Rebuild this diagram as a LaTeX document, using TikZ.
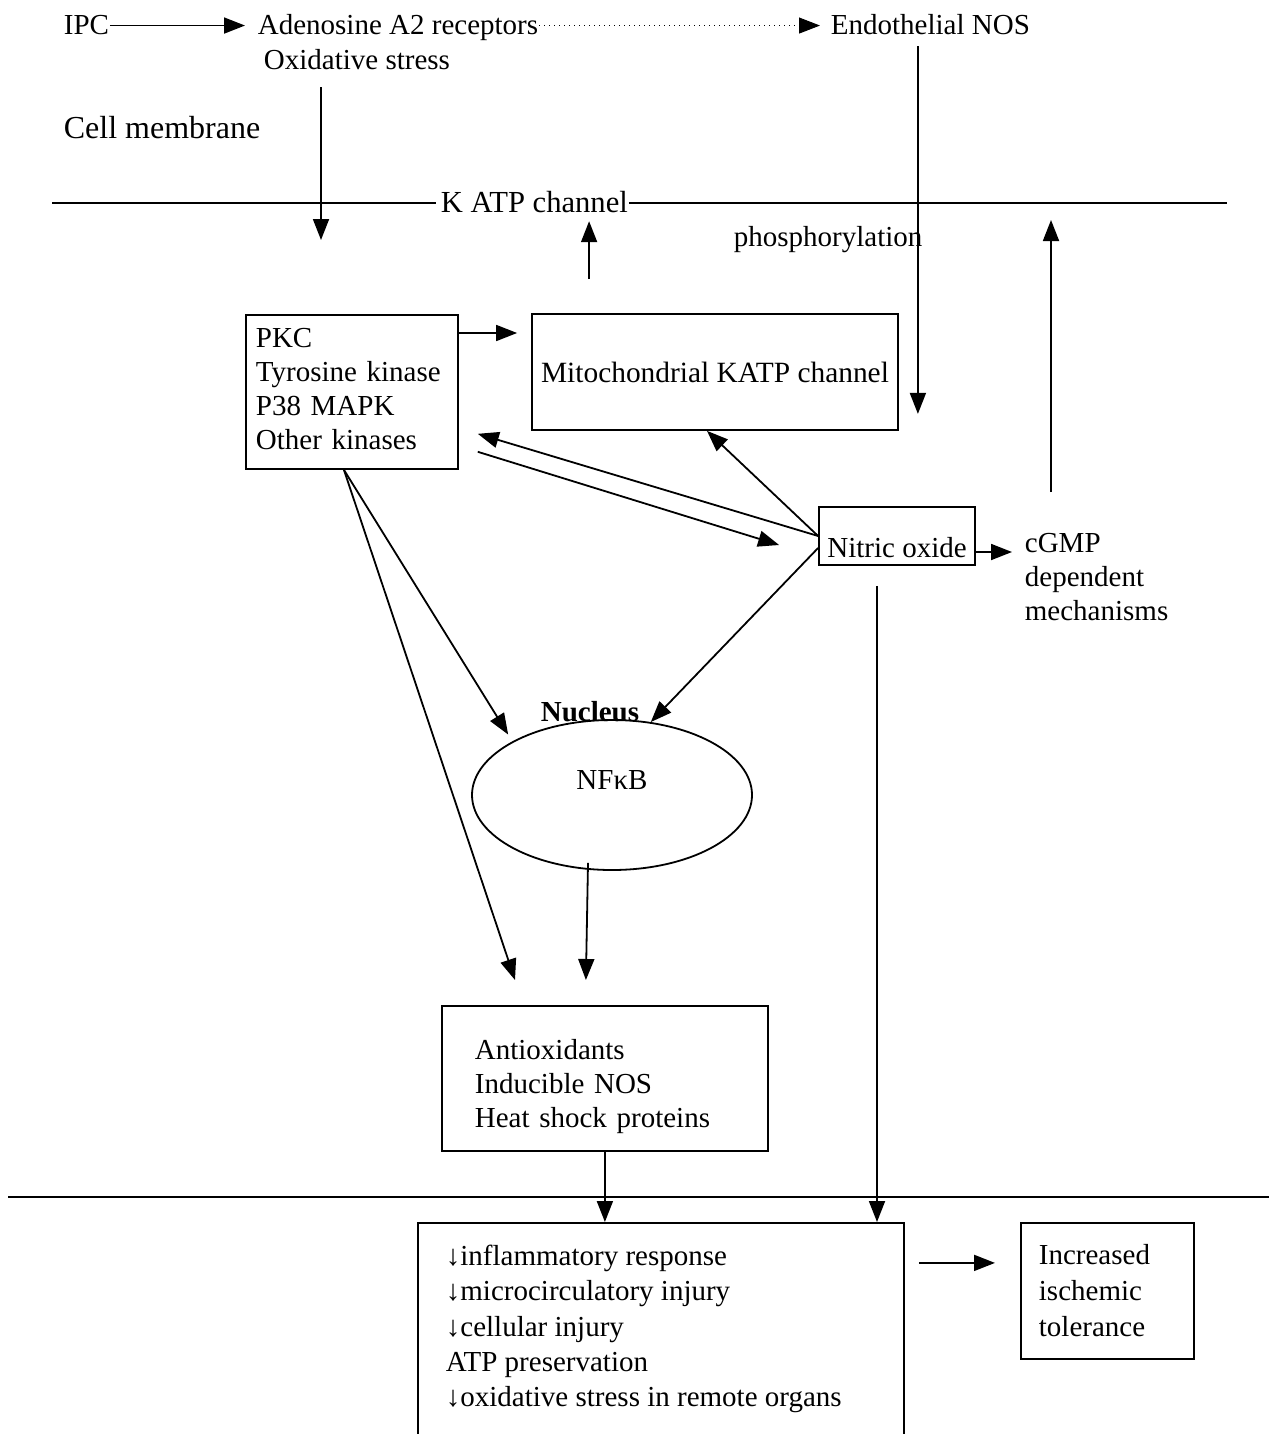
\documentclass[tikz,border=0pt]{standalone}
\usepackage{fontspec}
\setmainfont{Liberation Serif}
\usetikzlibrary{arrows.meta,shapes.geometric}
\tikzset{
  txt/.style={font=\fontsize{14.5}{17}\selectfont,inner sep=0pt},
  txtb/.style={font=\fontsize{14.5}{17.7}\selectfont,inner sep=0pt},
  box/.style={draw,line width=0.9pt,inner sep=0pt},
}
\begin{document}
\begin{tikzpicture}[x=0.5pt,y=-0.5pt,line width=0.9pt,>={Triangle[length=10.5pt,width=8pt]}]
\useasboundingbox (0,0) rectangle (1269,1434);
%top row
\node[txt,anchor=base west](ipc)at(63,35){IPC};
\node[txt,anchor=base west](adeno)at(257,35){Adenosine A2 receptors};
\node[txt,anchor=base west](enos)at(830,35){Endothelial NOS};
\node[txt,anchor=base west](oxid)at(263,70){Oxidative stress};
\node[txt,anchor=base west,font=\fontsize{16}{17}\selectfont](cellm)at(63,139){Cell membrane};
\draw[->,shorten >=6pt](ipc.east)--(ipc.east-|adeno.west);
\draw[->,dotted,line width=0.5pt,shorten >=5pt](adeno.east|-ipc.east)--(enos.west|-ipc.east);
%membrane
\coordinate(memL)at(52,203);
\coordinate(memR)at(1227,203);
\node[txt,anchor=base west,font=\fontsize{15.3}{17}\selectfont](katp)at(440,212){K ATP channel};
\draw[shorten >=2pt](memL)--(katp.west|-memL);
\draw(katp.east|-memR)--(memR);
\node[txt,anchor=base west](phos)at(733,246){phosphorylation};
%boxes
\node[box,anchor=north west,align=left,text width=96pt,inner xsep=5pt,minimum height=77pt,font=\fontsize{14.5}{17}\selectfont](pkc)at(245,314){PKC\\Tyrosine kinase\\P38 MAPK\\Other kinases\rule[-3pt]{0pt}{3pt}};
\node[box,minimum width=183pt,minimum height=58pt,font=\fontsize{14.7}{17}\selectfont](mito)at(715,372){Mitochondrial KATP channel};
\node[box,minimum width=78pt,text height=25pt,text depth=4pt,font=\fontsize{14.5}{17}\selectfont](no)at(897,536){Nitric oxide};
\node[txt,anchor=north west,align=left](cgmp)at(1024,532){cGMP\\dependent\\mechanisms};
%nucleus
\node[draw,ellipse,minimum width=140pt,minimum height=75pt,inner sep=0pt](nucleus)at(612,795){};
\node[txt](nfkb)at(612,780){NFκB};
\node[txt,font=\fontsize{14.5}{17}\selectfont\bfseries](nuclab)at(590,712){Nucleus};
\node[box,anchor=north west,align=left,text width=130pt,inner xsep=16.5pt,minimum height=72.5pt,font=\fontsize{14.5}{17}\selectfont](anti)at(441,1005){\rule{0pt}{18pt}Antioxidants\\Inducible NOS\\Heat shock proteins};
%bottom
\coordinate(botL)at(8,1197);
\coordinate(botR)at(1269,1197);
\draw(botL)--(botR);
\node[box,anchor=north west,minimum width=243pt,minimum height=109pt](effects)at(417,1222){};
\node[txtb,anchor=north west,align=left](efftxt)at(445,1244){↓inflammatory response\\↓microcirculatory injury\\↓cellular injury\\ATP preservation\\↓oxidative stress in remote organs};
\node[box,anchor=north west,align=left,text width=68.5pt,inner xsep=9pt,minimum height=68pt,font=\fontsize{14.5}{18}\selectfont](inc)at(1020,1222){Increased\\ischemic\\tolerance};
%connectors
\coordinate(oxin)at(321,240);
\draw[->,shorten <=8pt](oxid.south-|oxin)--(oxin);
\coordinate(mk)at([xshift=29pt]mito.north west);
\draw[->,shorten <=17pt,shorten >=4pt](mk)--(mk|-katp.south);
\coordinate(eno)at([xshift=9.5pt,yshift=8.5pt]mito.south east);
\draw[->,shorten <=5pt](enos.south-|eno)--(eno);
\coordinate(cgbot)at(1051,492);
\coordinate(cgtop)at(1051,220);
\draw[->](cgbot)--(cgtop);
\coordinate(pk1)at([yshift=-9.5pt]pkc.north east);
\draw[->,shorten >=7pt](pk1)--(pk1-|mito.west);
\draw[->](no.west)--([xshift=-4pt]mito.south);
\draw[->](no.west)--([xshift=9.5pt,yshift=18pt]pkc.south east);
\draw[->]([xshift=9.5pt,yshift=9pt]pkc.south east)--([xshift=-19.5pt,yshift=-4.5pt]no.west);
\draw[->]([yshift=-6pt]no.west)--(nucleus.62);
\draw[->,shorten >=4pt]([xshift=-4pt]pkc.south)--(nucleus.north west);
\draw[->]([xshift=-4pt]pkc.south)--([xshift=37pt,yshift=12.5pt]anti.north west);
\draw[->]([xshift=-12pt,yshift=4pt]nucleus.south)--([xshift=-9.5pt,yshift=12.5pt]anti.north);
\draw[->](anti.south)--(anti.south|-effects.north);
\coordinate(nod)at([xshift=-10pt]no.south);
\draw[->,shorten <=10pt](nod)--(nod|-effects.north);
\draw[->,shorten >=6pt]([yshift=-8pt]no.east)--([yshift=-8pt]no.east-|cgmp.west);
\coordinate(eff1)at([yshift=14pt]inc.west);
\draw[->,shorten <=7pt,shorten >=12.5pt](eff1-|effects.east)--(eff1);
\end{tikzpicture}
\end{document}
